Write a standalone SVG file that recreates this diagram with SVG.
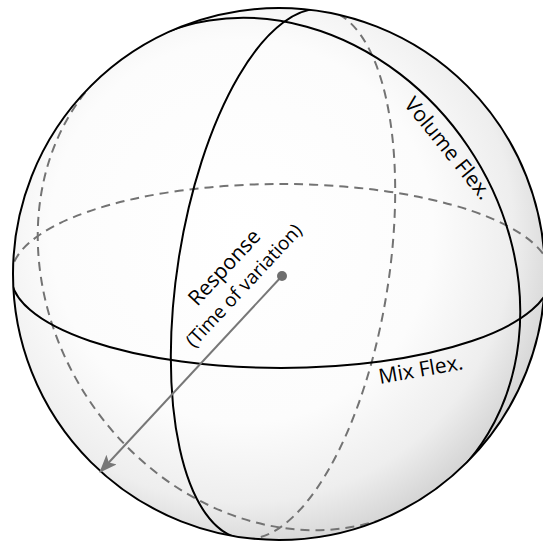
<svg xmlns="http://www.w3.org/2000/svg" width="543" height="544" viewBox="0 0 543 544">
  <style>
    .front { fill: none; stroke: #000; stroke-width: 2; }
    .back { fill: none; stroke: #737373; stroke-width: 2; stroke-dasharray: 9 6; }
    .lbl { font-family: "Open Sans", "Liberation Sans", sans-serif; fill: #000; }
  </style>
  <defs>
    <radialGradient id="shade" cx="0.43" cy="0.42" r="0.6">
      <stop offset="0" stop-color="#ffffff"/>
      <stop offset="0.6" stop-color="#fcfcfc"/>
      <stop offset="0.85" stop-color="#eeeeee"/>
      <stop offset="1" stop-color="#d6d6d6"/>
    </radialGradient>
    <clipPath id="sph">
      <circle cx="279" cy="274" r="266"/>
    </clipPath>
    <marker id="ah" viewBox="0 0 18 14" refX="17" refY="7" markerWidth="18" markerHeight="14" markerUnits="userSpaceOnUse" orient="auto">
      <path d="M0,0 L18,7 L0,14 L4,7 Z" fill="#777"/>
    </marker>
  </defs>

  <g id="sphere">
    <circle cx="279" cy="274" r="266" fill="url(#shade)"/>
  </g>

  <g id="connectors" clip-path="url(#sph)">
    <path id="equator-back" class="back" d="M11,276 A270,92 0 0 1 551,276"/>
    <path id="meridian-back" class="back" d="M324.9,9.3 A106,268 9 0 1 241.1,538.7"/>
    <path id="volume-back" class="back" d="M129.1,51.8 A268,228 56 0 0 428.9,496.2"/>
    <path id="equator-front" class="front" d="M11,276 A270,92 0 0 0 551,276"/>
    <path id="meridian-front" class="front" d="M324.9,9.3 A106,268 9 0 0 241.1,538.7"/>
    <path id="volume-front" class="front" d="M129.1,51.8 A268,228 56 0 1 428.9,496.2"/>
  </g>

  <g id="outline">
    <circle cx="279" cy="274" r="266" fill="none" stroke="#000" stroke-width="2"/>
  </g>

  <g id="response-arrow">
    <line x1="282" y1="276" x2="100" y2="472" stroke="#777" stroke-width="2" marker-end="url(#ah)"/>
    <circle cx="282" cy="276" r="5" fill="#6e6e6e"/>
  </g>

  <g id="labels">
    <g transform="translate(282,276) rotate(-47)">
      <text class="lbl" x="-33" y="-41" font-size="21" text-anchor="middle">Response</text>
      <text class="lbl" x="-33" y="-15" font-size="19" text-anchor="middle">(Time of variation)</text>
    </g>
    <text class="lbl" font-size="21" text-anchor="middle" transform="translate(442.5,152.8) rotate(51)">Volume Flex.</text>
    <text class="lbl" font-size="21" text-anchor="middle" transform="translate(422,376.5) rotate(-10)">Mix Flex.</text>
  </g>
</svg>
